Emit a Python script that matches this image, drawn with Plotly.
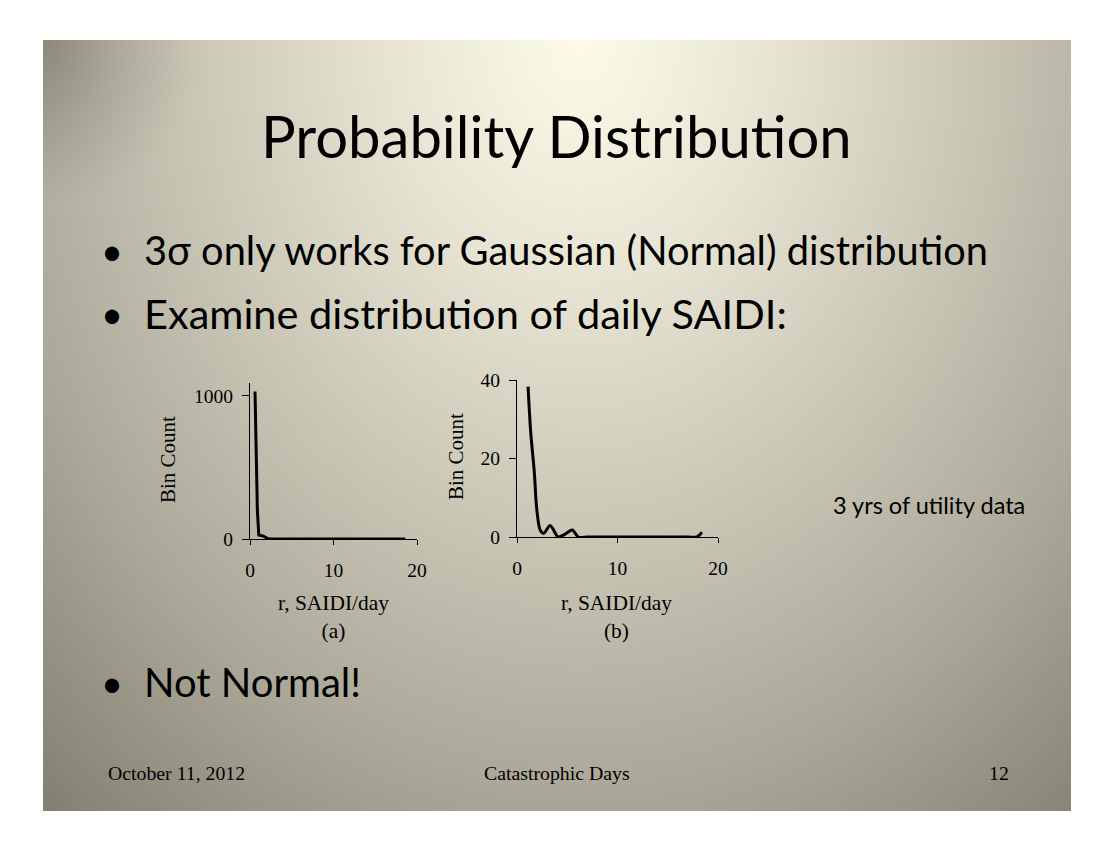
import numpy as np
import plotly.graph_objects as go

W, H = 1111, 848

# ---------------- data ----------------
# (a) all days
xa = [0.6, 0.7, 0.88, 1.05, 1.6, 2.2, 3.0, 5.0, 8.0, 12.0, 15.0, 18.6]
ya = [1030, 715, 205, 28, 20, 2, 0, 0, 0, 0, 0, 0]
# (b) detail
xb = [1.1, 1.36, 1.72, 1.95, 2.3, 2.65, 3.3, 4.1, 4.7, 5.5, 6.1, 7.0, 9.0, 11.0, 13.0, 15.0, 17.0, 17.9, 18.4]
yb = [38.3, 26.8, 16.6, 7.5, 1.8, 0.9, 2.9, 0.0, 0.6, 1.8, 0.0, 0.0, 0.0, 0.0, 0.0, 0.0, 0.0, 0.0, 1.2]

x_ticks = [0, 10, 20]
ya_ticks = [0, 1000]
yb_ticks = [0, 20, 40]

title_text = "Probability Distribution"
bullets = ["3σ only works for Gaussian (Normal) distribution",
           "Examine distribution of daily SAIDI:",
           "Not Normal!"]
note_text = "3 yrs of utility data"
xlabel = "r, SAIDI/day"
ylabel = "Bin Count"
footer_left = "October 11, 2012"
footer_mid = "Catastrophic Days"
footer_right = "12"

# ---------------- helpers ----------------
def px(x):
    return x / W

def py(y):
    return 1 - y / H

SL, ST, SR, SB = 43, 40, 1071, 811

# background gradient (decoration)
gx = np.linspace(SL, SR, 70)
gy = np.linspace(ST, SB, 60)
GX, GY = np.meshgrid(gx, gy)
t = np.sqrt(((GX - 580) / 661) ** 2 + ((GY - 40) / 830) ** 2)
dtl = np.sqrt((GX - SL) ** 2 + (GY - ST) ** 2)
t = t + 0.35 * np.clip(1 - dtl / 160, 0, 1)

fig = go.Figure()
fig.add_trace(go.Heatmap(
    x=gx, y=gy, z=t, zsmooth="best", showscale=False, hoverinfo="skip",
    zmin=0, zmax=1.25,
    colorscale=[[0.0, "#fdfbe8"], [0.24, "#e6e3d3"], [0.48, "#c9c6b6"],
                [0.72, "#aba899"], [0.96, "#878475"], [1.0, "#7d7b6d"]],
    xaxis="x", yaxis="y"))

fig.add_trace(go.Scatter(x=xa, y=ya, mode="lines", line=dict(color="black", width=3, shape="linear"),
                         xaxis="x2", yaxis="y2", showlegend=False, hoverinfo="skip"))
fig.add_trace(go.Scatter(x=xb, y=yb, mode="lines", line=dict(color="black", width=3, shape="spline", smoothing=0.8),
                         xaxis="x3", yaxis="y3", showlegend=False, hoverinfo="skip"))

serif = "Liberation Serif"
tickfont = dict(family=serif, size=19.5, color="black")

def xax(d0, d1):
    return dict(domain=[px(d0), px(d1)], range=[0, 20], tickvals=x_ticks, ticks="outside", ticklen=5,
                tickcolor="black", showline=True, linecolor="black", linewidth=1, showgrid=False,
                zeroline=False, tickfont=tickfont, fixedrange=True, automargin=False,
                ticklabelstandoff=9)

def yax(d_top, d_bot, rng, tv, anchor):
    return dict(domain=[py(d_bot), py(d_top)], range=rng, tickvals=tv, ticks="outside", ticklen=7,
                tickcolor="black", showline=True, linecolor="black", linewidth=1, showgrid=False,
                zeroline=False, tickfont=tickfont, anchor=anchor, fixedrange=True, automargin=False,
                ticklabelstandoff=5)

fig.update_layout(
    width=W, height=H, margin=dict(l=0, r=0, t=0, b=0, pad=0, autoexpand=False),
    paper_bgcolor="white", plot_bgcolor="rgba(0,0,0,0)", showlegend=False,
    xaxis=dict(domain=[px(SL), px(SR)], range=[SL, SR], visible=False, fixedrange=True, automargin=False),
    yaxis=dict(domain=[py(SB), py(ST)], range=[SB, ST], visible=False, fixedrange=True, automargin=False),
    xaxis2=dict(xax(250, 417), anchor="y2"),
    yaxis2=yax(383, 539, [0, 1090], ya_ticks, "x2"),
    xaxis3=dict(xax(517, 718), anchor="y3"),
    yaxis3=yax(380, 537, [0, 40], yb_ticks, "x3"),
)

sans = "Lato"
ann = []

def text(x, y, s, size, family, xanchor="center", angle=0):
    ann.append(dict(x=px(x), y=py(y), xref="paper", yref="paper", text=s, showarrow=False,
                    xanchor=xanchor, yanchor="middle", textangle=angle,
                    font=dict(family=family, size=size, color="black")))

text(556, 135, title_text, 58, sans)
for yy, s, fs in zip([249.5, 312.5, 681.5], bullets, [39.8, 41.5, 40]):
    text(112, yy, "•", 38, sans)
    text(142, yy, s, fs, sans, xanchor="left")
text(929, 505, note_text, 23.5, sans)

text(168, 460, ylabel, 21, serif, angle=-90)
text(456, 457, ylabel, 21, serif, angle=-90)
text(333, 617, xlabel + "<br>(a)", 21.4, serif)
text(616, 617, xlabel + "<br>(b)", 21.4, serif)

text(106, 773, footer_left, 19.8, serif, xanchor="left")
text(557, 773, footer_mid, 19.8, serif)
text(999, 773, footer_right, 19.8, serif)

fig.update_layout(annotations=ann)
fig.write_html("out.html", config={"displayModeBar": False},
               post_script="document.body.style.margin='0';document.body.style.overflow='hidden';")
